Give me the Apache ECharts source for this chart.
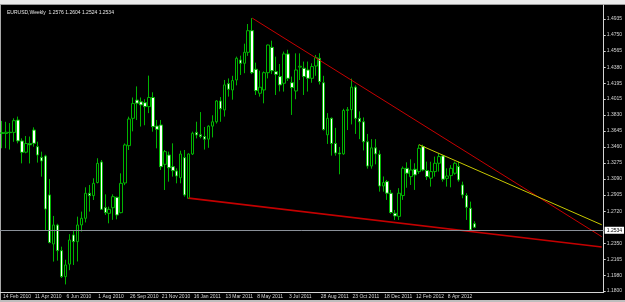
<!DOCTYPE html>
<html>
<head>
    <meta charset="utf-8">
    <title>EURUSD Weekly</title>
    <script src="https://cdn.jsdelivr.net/npm/echarts@6/dist/echarts.min.js"></script>
    <style>
        html, body { margin: 0; padding: 0; background: #000; }
    </style>
</head>
<body>
<div id="main" style="width: 625px;height:302px;"></div>
<script type="text/javascript">
    // weekly bars, 14 Feb 2010 .. 27 May 2012
    var open = [
        1.3625,1.3615,1.3630,1.3628,1.3770,1.3529,1.3400,1.3500,1.3655,1.3463,
        1.3340,1.3356,1.2907,1.2342,1.2560,1.2265,1.1966,1.2110,1.2446,1.2369,
        1.2561,1.2638,1.2926,1.2899,1.3050,1.3287,1.2761,1.2695,1.2760,1.2880,
        1.2703,1.3045,1.3475,1.3790,1.4000,1.3980,1.3970,1.3925,1.4030,1.3701,
        1.3713,1.3260,1.3367,1.3233,1.3183,1.3106,1.3337,1.2868,1.3379,1.3628,
        1.3600,1.3580,1.3550,1.3700,1.3750,1.3990,1.3887,1.4190,1.4117,1.4232,
        1.4462,1.4424,1.4551,1.4800,1.4355,1.4079,1.4117,1.4316,1.4608,1.4328,
        1.4271,1.4194,1.4532,1.4201,1.4105,1.4380,1.4367,1.4347,1.4251,1.4393,
        1.4482,1.4200,1.3600,1.3790,1.3500,1.3390,1.3380,1.3880,1.3890,1.4150,
        1.3790,1.3750,1.3520,1.3240,1.3450,1.3376,1.3010,1.3061,1.2927,1.2696,
        1.2660,1.2900,1.3214,1.3118,1.3203,1.3176,1.3464,1.3188,1.3100,1.3176,
        1.3272,1.3357,1.3098,1.3130,1.3157,1.3234,1.3022,1.2900,1.2754,1.2576
    ];
    var close = [
        1.3615,1.3630,1.3625,1.3763,1.3530,1.3398,1.3500,1.3485,1.3502,1.3367,
        1.3298,1.2745,1.2358,1.2561,1.2265,1.1966,1.2100,1.2388,1.2369,1.2561,
        1.2638,1.2926,1.2899,1.3041,1.3271,1.2741,1.2703,1.2741,1.2887,1.2676,
        1.3041,1.3483,1.3782,1.3960,1.3965,1.3945,1.3925,1.4030,1.3694,1.3663,
        1.3233,1.3406,1.3221,1.3187,1.3125,1.3379,1.2907,1.3379,1.3617,1.3598,
        1.3580,1.3550,1.3700,1.3750,1.3990,1.3900,1.4175,1.4125,1.4225,1.4482,
        1.4424,1.4551,1.4800,1.4316,1.4109,1.4148,1.4316,1.4635,1.4339,1.4297,
        1.4175,1.4532,1.4251,1.4144,1.4347,1.4390,1.4271,1.4251,1.4386,1.4490,
        1.4213,1.3660,1.3790,1.3500,1.3390,1.3380,1.3880,1.3890,1.4150,1.3790,
        1.3750,1.3520,1.3240,1.3450,1.3380,1.3010,1.3050,1.2927,1.2704,1.2665,
        1.2927,1.3214,1.3157,1.3195,1.3138,1.3445,1.3195,1.3118,1.3176,1.3272,
        1.3349,1.3088,1.3125,1.3214,1.3272,1.3080,1.2907,1.2765,1.2504,1.2534
    ];
    var high = [
        1.3760,1.3750,1.3735,1.3790,1.3810,1.3559,1.3586,1.3580,1.3686,1.3521,
        1.3406,1.3370,1.3091,1.2665,1.2575,1.2311,1.2160,1.2455,1.2503,1.2657,
        1.2715,1.2995,1.3022,1.3099,1.3330,1.3310,1.2914,1.2772,1.2914,1.2887,
        1.3156,1.3500,1.3809,1.4030,1.4158,1.4030,1.4010,1.4282,1.4090,1.3771,
        1.3771,1.3425,1.3406,1.3502,1.3214,1.3417,1.3425,1.3387,1.3636,1.3751,
        1.3862,1.3690,1.3710,1.3825,1.4000,1.4035,1.4232,1.4250,1.4280,1.4501,
        1.4512,1.4650,1.4877,1.4945,1.4432,1.4339,1.4330,1.4640,1.4685,1.4501,
        1.4416,1.4559,1.4580,1.4271,1.4539,1.4539,1.4444,1.4444,1.4424,1.4520,
        1.4540,1.4280,1.3850,1.3800,1.3680,1.3460,1.3900,1.3920,1.4247,1.4170,
        1.3870,1.3800,1.3610,1.3550,1.3550,1.3420,1.3120,1.3080,1.2965,1.2734,
        1.2985,1.3235,1.3283,1.3318,1.3272,1.3486,1.3486,1.3291,1.3290,1.3349,
        1.3387,1.3368,1.3214,1.3250,1.3291,1.3291,1.3060,1.2927,1.2830,1.2604
    ];
    var low = [
        1.3445,1.3445,1.3430,1.3520,1.3502,1.3271,1.3387,1.3270,1.3463,1.3280,
        1.3118,1.2503,1.2350,1.2139,1.2150,1.1950,1.1876,1.2040,1.2100,1.2140,
        1.2485,1.2590,1.2715,1.2849,1.3040,1.2734,1.2676,1.2580,1.2620,1.2626,
        1.2695,1.3020,1.3425,1.3640,1.3770,1.3695,1.3710,1.3850,1.3636,1.3444,
        1.3195,1.2964,1.3060,1.3118,1.3041,1.3041,1.2887,1.2861,1.3367,1.3559,
        1.3560,1.3430,1.3450,1.3570,1.3730,1.3750,1.3810,1.4040,1.4005,1.4170,
        1.4290,1.4310,1.4510,1.4300,1.4059,1.4040,1.3963,1.4250,1.4300,1.4059,
        1.4100,1.4098,1.4220,1.3829,1.4010,1.4232,1.4059,1.4098,1.4200,1.4280,
        1.4180,1.3650,1.3495,1.3360,1.3360,1.3145,1.3370,1.3655,1.3720,1.3610,
        1.3550,1.3420,1.3210,1.3210,1.3260,1.2945,1.2945,1.2850,1.2690,1.2619,
        1.2619,1.2850,1.2990,1.3022,1.2965,1.3150,1.3180,1.3080,1.3003,1.3118,
        1.3176,1.3060,1.3003,1.2995,1.3140,1.3060,1.2869,1.2619,1.2495,1.2524
    ];

    // date labels, one every 8 weeks
    var dateTicks = ['14 Feb 2010', '11 Apr 2010', '6 Jun 2010', '1 Aug 2010', '26 Sep 2010',
        '21 Nov 2010', '16 Jan 2011', '13 Mar 2011', '8 May 2011', '3 Jul 2011',
        '28 Aug 2011', '23 Oct 2011', '18 Dec 2011', '12 Feb 2012', '8 Apr 2012'];
    var priceTicks = [1.1800, 1.1980, 1.2165, 1.2350, 1.2720, 1.2905, 1.3090, 1.3275, 1.3460,
        1.3645, 1.3830, 1.4015, 1.4195, 1.4380, 1.4565, 1.4750, 1.4935];

    var bidPrice = 1.2534;
    var titleText = 'EURUSD,Weekly  1.2576 1.2604 1.2524 1.2534';

    // trend lines: [bar index, price]
    var upperLine = [[63, 1.4945], [151, 1.2426]];
    var yellowLine = [[105, 1.3486], [151, 1.2563]];
    var lowerLine = [[47, 1.2870], [151, 1.2307]];

    var slotCount = 152;   // bars + empty space at right
    var slots = [];
    for (var i = 0; i < slotCount; i++) slots.push(String(i));

    var candles = [];
    for (var i = 0; i < open.length; i++) {
        candles.push([open[i], close[i], low[i], high[i]]);
    }

    var showTick = function (idx) { return idx % 8 === 0 && idx / 8 < dateTicks.length; };
    var fg = '#d4d4d4';
    var green = '#00b400';

    var myChart = echarts.init(document.getElementById('main'));
    var option = {
        backgroundColor: '#000',
        animation: false,
        title: {
            text: titleText,
            left: 2, top: 5,
            textStyle: { color: '#e6e6e6', fontSize: 5, fontWeight: 'normal', fontFamily: 'Liberation Sans' }
        },
        graphic: [
            { type: 'rect', shape: { x: 0, y: 0, width: 625, height: 4 }, style: { fill: '#ebebeb' } },
            { type: 'rect', shape: { x: 0, y: 4, width: 625, height: 1 }, style: { fill: '#9c9c9c' } },
            { type: 'rect', shape: { x: 0, y: 4, width: 1, height: 298 }, style: { fill: '#a8a8a8' } },
            { type: 'rect', shape: { x: 0, y: 300, width: 625, height: 2 }, style: { fill: '#bdbdbd' } }
        ],
        grid: { left: -1.7, right: 18, top: 5, bottom: 10 },
        xAxis: {
            type: 'category',
            data: slots,
            boundaryGap: true,
            axisLine: { lineStyle: { color: fg, width: 1 } },
            axisTick: { alignWithLabel: true, interval: showTick, length: 2, lineStyle: { color: fg } },
            axisLabel: {
                interval: showTick,
                align: 'left',
                margin: 2,
                padding: [0, 0, 0, 1],
                color: fg,
                fontSize: 5,
                fontFamily: 'Liberation Sans',
                formatter: function (v, idx) { return dateTicks[idx / 8]; }
            },
            splitLine: { show: false }
        },
        yAxis: {
            type: 'value',
            position: 'right',
            min: 1.17885,
            max: 1.5096,
            axisLine: { show: true, lineStyle: { color: fg, width: 1 } },
            axisTick: { show: true, customValues: priceTicks, length: 2, lineStyle: { color: fg } },
            axisLabel: {
                customValues: priceTicks,
                margin: 3,
                color: fg,
                fontSize: 5,
                fontFamily: 'Liberation Sans',
                formatter: function (v) { return v.toFixed(4); }
            },
            splitLine: { show: false }
        },
        series: [
            {
                type: 'candlestick',
                data: candles,
                barWidth: 3,
                itemStyle: {
                    color: '#000',
                    color0: '#fff',
                    borderColor: green,
                    borderColor0: green,
                    borderWidth: 1
                },
                markLine: {
                    silent: true,
                    symbol: 'none',
                    data: [{ yAxis: bidPrice }],
                    lineStyle: { color: '#8a9099', type: 'solid', width: 1 },
                    label: {
                        position: 'end',
                        distance: 1,
                        formatter: bidPrice.toFixed(4),
                        backgroundColor: '#fff',
                        color: '#000',
                        fontSize: 5,
                        fontFamily: 'Liberation Sans',
                        padding: [1, 2]
                    }
                }
            },
            {
                type: 'line', data: upperLine, symbol: 'none', silent: true,
                lineStyle: { color: '#c80000', width: 1 }
            },
            {
                type: 'line', data: yellowLine, symbol: 'none', silent: true,
                lineStyle: { color: '#c8c800', width: 1 }
            },
            {
                type: 'line', data: lowerLine, symbol: 'none', silent: true,
                lineStyle: { color: '#c40000', width: 1.6 }
            }
        ]
    };
    myChart.setOption(option);
</script>
</body>
</html>
